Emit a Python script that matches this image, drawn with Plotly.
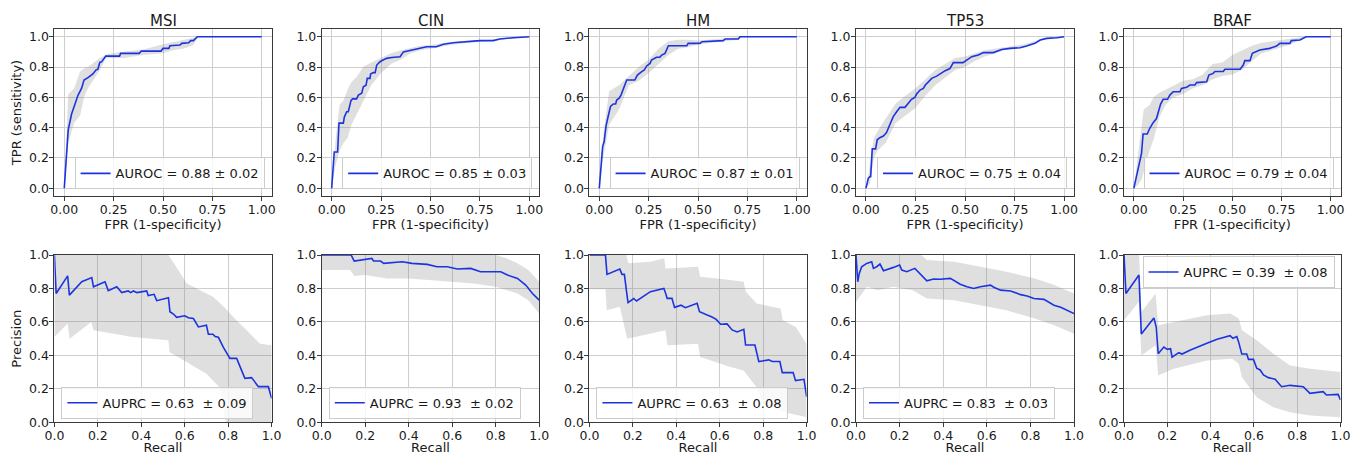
import plotly.graph_objects as go

# ---------------- data ----------------
TITLES = ["MSI", "CIN", "HM", "TP53", "BRAF"]
ROC_LABELS = ["AUROC = 0.88 ± 0.02", "AUROC = 0.85 ± 0.03", "AUROC = 0.87 ± 0.01",
              "AUROC = 0.75 ± 0.04", "AUROC = 0.79 ± 0.04"]
PR_LABELS = ["AUPRC = 0.63 \u00a0± 0.09", "AUPRC = 0.93 \u00a0± 0.02", "AUPRC = 0.63 \u00a0± 0.08",
             "AUPRC = 0.83 \u00a0± 0.03", "AUPRC = 0.39 \u00a0± 0.08"]
ROC_TICKS = [0, 0.25, 0.5, 0.75, 1.0]
PR_TICKS = [0, 0.2, 0.4, 0.6, 0.8, 1.0]

# --- MSI ROC
MSI_FPR = [0, 0.02, 0.037, 0.054, 0.07, 0.088, 0.1, 0.12, 0.145, 0.16, 0.17, 0.18, 0.19, 0.21, 0.28, 0.285,
           0.38, 0.39, 0.49, 0.5, 0.53, 0.535, 0.586, 0.595, 0.63, 0.64, 0.654, 0.674, 1.0]
MSI_TPR = [0, 0.385, 0.49, 0.56, 0.615, 0.66, 0.714, 0.73, 0.754, 0.78, 0.785, 0.83, 0.835, 0.872, 0.872, 0.89,
           0.89, 0.905, 0.905, 0.923, 0.923, 0.94, 0.945, 0.956, 0.96, 0.974, 0.974, 1.0, 1.0]
MSI_ROC_BX = [0, 0.02, 0.05, 0.08, 0.1, 0.12, 0.14, 0.16, 0.18, 0.21, 0.22, 0.3, 0.4, 0.5, 0.55, 0.6, 0.65, 0.68, 1.0]
MSI_ROC_HI = [0, 0.62, 0.66, 0.77, 0.79, 0.80, 0.82, 0.84, 0.86, 0.88, 0.885, 0.90, 0.915, 0.95, 0.965, 0.98, 0.99, 1.0, 1.0]
MSI_ROC_LO = [0, 0.30, 0.43, 0.48, 0.60, 0.66, 0.70, 0.74, 0.78, 0.855, 0.86, 0.86, 0.88, 0.89, 0.91, 0.92, 0.94, 1.0, 1.0]

# --- CIN ROC
CIN_FPR = [0, 0.013, 0.03, 0.037, 0.059, 0.064, 0.076, 0.084, 0.098, 0.106, 0.126, 0.135, 0.152, 0.16, 0.174,
           0.18, 0.194, 0.197, 0.21, 0.22, 0.228, 0.245, 0.26, 0.278, 0.303, 0.346, 0.363, 0.405, 0.447, 0.48,
           0.53, 0.565, 0.615, 0.683, 0.75, 0.818, 0.85, 0.92, 1.0]
CIN_TPR = [0, 0.24, 0.24, 0.43, 0.43, 0.47, 0.505, 0.505, 0.58, 0.59, 0.59, 0.615, 0.627, 0.67, 0.68,
           0.725, 0.725, 0.754, 0.763, 0.763, 0.813, 0.835, 0.846, 0.857, 0.863, 0.868, 0.90, 0.912, 0.923, 0.934,
           0.934, 0.95, 0.96, 0.967, 0.974, 0.974, 0.985, 0.993, 1.0]
CIN_ROC_BX = [0, 0.02, 0.04, 0.06, 0.08, 0.1, 0.13, 0.16, 0.2, 0.25, 0.3, 0.35, 0.4, 0.45, 0.5, 0.6, 0.7, 0.8, 0.9, 1.0]
CIN_ROC_HI = [0, 0.32, 0.55, 0.58, 0.65, 0.70, 0.74, 0.80, 0.83, 0.86, 0.89, 0.91, 0.925, 0.94, 0.945, 0.965, 0.975, 0.978, 0.995, 1.0]
CIN_ROC_LO = [0, 0.15, 0.25, 0.30, 0.33, 0.42, 0.50, 0.58, 0.68, 0.76, 0.82, 0.85, 0.89, 0.91, 0.92, 0.945, 0.96, 0.97, 0.987, 1.0]

# --- HM ROC
HM_FPR = [0, 0.017, 0.025, 0.034, 0.046, 0.057, 0.071, 0.083, 0.088, 0.1, 0.11, 0.122, 0.139, 0.18, 0.193, 0.215,
          0.228, 0.24, 0.257, 0.265, 0.29, 0.307, 0.316, 0.333, 0.35, 0.443, 0.45, 0.51, 0.52, 0.628, 0.637, 0.704,
          0.713, 1.0]
HM_TPR = [0, 0.275, 0.31, 0.41, 0.48, 0.54, 0.556, 0.556, 0.582, 0.593, 0.615, 0.66, 0.714, 0.714, 0.747, 0.77,
          0.78, 0.807, 0.824, 0.846, 0.864, 0.864, 0.879, 0.89, 0.94, 0.94, 0.956, 0.956, 0.967, 0.974, 0.985, 0.985,
          1.0, 1.0]
HM_ROC_BX = [0, 0.02, 0.05, 0.1, 0.15, 0.2, 0.25, 0.3, 0.35, 0.4, 0.45, 0.5, 0.6, 0.7, 0.72, 1.0]
HM_ROC_HI = [0, 0.35, 0.64, 0.68, 0.74, 0.80, 0.85, 0.92, 0.97, 0.98, 0.98, 0.975, 0.985, 0.995, 1.0, 1.0]
HM_ROC_LO = [0, 0.20, 0.42, 0.52, 0.68, 0.71, 0.76, 0.82, 0.88, 0.92, 0.93, 0.95, 0.965, 0.98, 1.0, 1.0]

# --- TP53 ROC
TP53_FPR = [0, 0.012, 0.02, 0.024, 0.032, 0.049, 0.057, 0.07, 0.088, 0.104, 0.113, 0.125, 0.138, 0.155, 0.172,
            0.197, 0.214, 0.23, 0.247, 0.256, 0.273, 0.29, 0.30, 0.315, 0.332, 0.357, 0.374, 0.40, 0.424, 0.433,
            0.441, 0.49, 0.508, 0.534, 0.567, 0.593, 0.643, 0.685, 0.727, 0.778, 0.811, 0.853, 0.879, 0.912, 0.963, 1.0]
TP53_TPR = [0, 0.066, 0.077, 0.077, 0.26, 0.26, 0.32, 0.334, 0.345, 0.367, 0.396, 0.43, 0.473, 0.505, 0.534,
            0.534, 0.56, 0.587, 0.6, 0.622, 0.648, 0.659, 0.681, 0.703, 0.725, 0.74, 0.754, 0.776, 0.79, 0.807,
            0.829, 0.829, 0.846, 0.868, 0.879, 0.895, 0.895, 0.916, 0.923, 0.927, 0.938, 0.956, 0.978, 0.989, 0.993, 1.0]
TP53_ROC_BX = [0, 0.02, 0.04, 0.06, 0.1, 0.15, 0.2, 0.25, 0.3, 0.35, 0.4, 0.45, 0.5, 0.55, 0.6, 0.7, 0.8, 0.9, 1.0]
TP53_ROC_HI = [0, 0.15, 0.33, 0.38, 0.46, 0.56, 0.61, 0.66, 0.72, 0.78, 0.82, 0.86, 0.87, 0.89, 0.91, 0.93, 0.95, 0.99, 1.0]
TP53_ROC_LO = [0, 0.03, 0.20, 0.25, 0.30, 0.43, 0.48, 0.53, 0.61, 0.68, 0.73, 0.78, 0.80, 0.84, 0.87, 0.91, 0.93, 0.98, 1.0]

# --- BRAF ROC
BRAF_FPR = [0, 0.0136, 0.03, 0.039, 0.047, 0.068, 0.081, 0.098, 0.115, 0.124, 0.136, 0.149, 0.171, 0.183, 0.2,
            0.234, 0.242, 0.268, 0.285, 0.31, 0.319, 0.37, 0.381, 0.403, 0.412, 0.454, 0.463, 0.54, 0.556, 0.564,
            0.59, 0.602, 0.624, 0.64, 0.69, 0.725, 0.742, 0.793, 0.8, 0.844, 0.875, 1.0]
BRAF_TPR = [0, 0.077, 0.165, 0.23, 0.358, 0.358, 0.396, 0.433, 0.46, 0.495, 0.556, 0.587, 0.587, 0.615, 0.637,
            0.637, 0.659, 0.666, 0.681, 0.681, 0.697, 0.703, 0.747, 0.758, 0.77, 0.77, 0.785, 0.785, 0.813, 0.842,
            0.842, 0.89, 0.9, 0.912, 0.923, 0.938, 0.956, 0.956, 0.974, 0.978, 1.0, 1.0]
BRAF_ROC_BX = [0, 0.02, 0.04, 0.05, 0.08, 0.1, 0.13, 0.16, 0.2, 0.25, 0.3, 0.35, 0.4, 0.45, 0.5, 0.55, 0.6, 0.65,
               0.7, 0.8, 0.87, 1.0]
BRAF_ROC_HI = [0, 0.2, 0.4, 0.52, 0.55, 0.6, 0.63, 0.65, 0.68, 0.71, 0.72, 0.75, 0.82, 0.83, 0.88, 0.91, 0.94, 0.96,
               0.97, 0.99, 1.0, 1.0]
BRAF_ROC_LO = [0, 0.02, 0.06, 0.12, 0.25, 0.32, 0.47, 0.55, 0.6, 0.62, 0.66, 0.68, 0.72, 0.74, 0.75, 0.78, 0.84, 0.89,
               0.91, 0.95, 1.0, 1.0]

# --- MSI PR
MSI_REC = [0, 0.008, 0.061, 0.069, 0.126, 0.172, 0.18, 0.233, 0.248, 0.287, 0.31, 0.34, 0.35, 0.364, 0.38, 0.425,
           0.432, 0.459, 0.471, 0.525, 0.532, 0.548, 0.563, 0.6, 0.617, 0.64, 0.663, 0.7, 0.709, 0.73, 0.74, 0.755,
           0.778, 0.808, 0.839, 0.854, 0.877, 0.908, 0.939, 0.985, 1.0]
MSI_PREC = [1.0, 0.77, 0.875, 0.76, 0.84, 0.865, 0.81, 0.84, 0.787, 0.81, 0.775, 0.785, 0.775, 0.785, 0.775, 0.785,
            0.757, 0.765, 0.727, 0.745, 0.661, 0.647, 0.627, 0.637, 0.625, 0.62, 0.57, 0.58, 0.526, 0.526, 0.512, 0.508,
            0.448, 0.382, 0.382, 0.333, 0.263, 0.267, 0.213, 0.213, 0.143]
MSI_PR_HI_X = [0, 0.525, 0.55, 0.61, 0.67, 0.73, 0.78, 0.83, 0.885, 0.946, 1.0]
MSI_PR_HI_Y = [1.0, 1.0, 0.95, 0.83, 0.79, 0.75, 0.69, 0.62, 0.55, 0.47, 0.46]
MSI_PR_LO_X = [0, 0.061, 0.07, 0.17, 0.18, 0.36, 0.525, 0.53, 0.61, 0.7, 0.76, 0.79, 1.0]
MSI_PR_LO_Y = [0.51, 0.59, 0.50, 0.60, 0.55, 0.51, 0.49, 0.42, 0.36, 0.29, 0.21, 0.0, 0.0]

# --- CIN PR
CIN_REC = [0, 0.135, 0.149, 0.192, 0.23, 0.238, 0.27, 0.285, 0.37, 0.415, 0.485, 0.53, 0.577, 0.623, 0.685, 0.73,
           0.823, 0.854, 0.9, 0.938, 0.969, 1.0]
CIN_PREC = [1.0, 1.0, 0.964, 0.974, 0.98, 0.964, 0.964, 0.95, 0.96, 0.95, 0.944, 0.93, 0.93, 0.916, 0.92, 0.9,
            0.9, 0.88, 0.86, 0.82, 0.77, 0.73]
CIN_PR_HI_X = [0, 0.8, 0.85, 0.9, 0.95, 1.0]
CIN_PR_HI_Y = [1.0, 1.0, 0.98, 0.95, 0.91, 0.84]
CIN_PR_LO_X = [0, 0.13, 0.15, 0.2, 0.3, 0.4, 0.5, 0.6, 0.7, 0.8, 0.85, 0.9, 0.95, 1.0]
CIN_PR_LO_Y = [0.91, 0.91, 0.875, 0.88, 0.86, 0.86, 0.85, 0.84, 0.83, 0.81, 0.79, 0.77, 0.73, 0.65]

# --- HM PR
HM_REC = [0, 0.074, 0.081, 0.14, 0.15, 0.161, 0.174, 0.178, 0.204, 0.217, 0.281, 0.343, 0.35, 0.358, 0.38, 0.392,
          0.422, 0.442, 0.496, 0.507, 0.542, 0.562, 0.584, 0.604, 0.634, 0.657, 0.68, 0.711, 0.719, 0.762, 0.78,
          0.826, 0.842, 0.877, 0.888, 0.938, 0.949, 0.988, 1.0]
HM_PREC = [1.0, 1.0, 0.884, 0.916, 0.884, 0.884, 0.751, 0.715, 0.74, 0.725, 0.781, 0.8, 0.775, 0.741, 0.741, 0.687,
           0.7, 0.685, 0.711, 0.661, 0.641, 0.631, 0.615, 0.586, 0.588, 0.552, 0.54, 0.556, 0.462, 0.462, 0.363,
           0.373, 0.363, 0.363, 0.297, 0.297, 0.249, 0.257, 0.153]
HM_PR_HI_X = [0, 0.17, 0.18, 0.28, 0.345, 0.35, 0.5, 0.51, 0.65, 0.71, 0.72, 0.77, 0.88, 0.89, 0.95, 1.0]
HM_PR_HI_Y = [1.0, 1.0, 0.95, 0.96, 0.98, 0.92, 0.93, 0.87, 0.85, 0.84, 0.78, 0.71, 0.68, 0.61, 0.57, 0.47]
HM_PR_LO_X = [0, 0.074, 0.08, 0.14, 0.174, 0.35, 0.36, 0.5, 0.51, 0.65, 0.71, 0.77, 0.8, 0.9, 1.0]
HM_PR_LO_Y = [0.795, 0.795, 0.67, 0.69, 0.50, 0.55, 0.46, 0.47, 0.39, 0.33, 0.31, 0.21, 0.11, 0.06, 0.03]

# --- TP53 PR
TP53_REC = [0, 0.008, 0.015, 0.026, 0.049, 0.072, 0.08, 0.095, 0.11, 0.126, 0.172, 0.2, 0.21, 0.233, 0.27, 0.294,
            0.325, 0.356, 0.386, 0.433, 0.448, 0.478, 0.509, 0.54, 0.57, 0.617, 0.632, 0.663, 0.709, 0.755, 0.785,
            0.816, 0.862, 0.908, 0.939, 0.977, 1.0]
TP53_PREC = [1.0, 0.84, 0.89, 0.93, 0.95, 0.96, 0.92, 0.93, 0.946, 0.906, 0.926, 0.94, 0.91, 0.9, 0.92, 0.89,
             0.846, 0.856, 0.855, 0.86, 0.847, 0.825, 0.81, 0.8, 0.81, 0.82, 0.807, 0.79, 0.785, 0.763, 0.755,
             0.74, 0.735, 0.7, 0.687, 0.665, 0.65]
TP53_PR_HI_X = [0, 0.3, 0.325, 0.45, 0.57, 0.69, 0.82, 0.91, 1.0]
TP53_PR_HI_Y = [1.0, 1.0, 0.97, 0.96, 0.93, 0.90, 0.86, 0.82, 0.77]
TP53_PR_LO_X = [0, 0.01, 0.05, 0.1, 0.17, 0.26, 0.325, 0.45, 0.57, 0.69, 0.82, 0.91, 1.0]
TP53_PR_LO_Y = [0.72, 0.74, 0.81, 0.79, 0.81, 0.79, 0.74, 0.73, 0.70, 0.67, 0.62, 0.58, 0.53]

# --- BRAF PR
BRAF_REC = [0, 0.009, 0.069, 0.08, 0.138, 0.149, 0.158, 0.184, 0.2, 0.215, 0.222, 0.253, 0.268, 0.307, 0.383, 0.43,
            0.49, 0.503, 0.521, 0.529, 0.544, 0.567, 0.575, 0.598, 0.613, 0.629, 0.644, 0.667, 0.698, 0.728, 0.767,
            0.828, 0.859, 0.92, 0.935, 0.989, 1.0]
BRAF_PREC = [1.0, 0.77, 0.88, 0.528, 0.624, 0.568, 0.41, 0.45, 0.436, 0.44, 0.39, 0.416, 0.408, 0.432, 0.472, 0.496,
             0.518, 0.502, 0.512, 0.482, 0.408, 0.408, 0.376, 0.376, 0.323, 0.313, 0.283, 0.267, 0.257, 0.213, 0.221,
             0.213, 0.173, 0.183, 0.163, 0.167, 0.133]
BRAF_PR_HI_X = [0, 0.07, 0.08, 0.146, 0.158, 0.23, 0.383, 0.49, 0.53, 0.545, 0.613, 0.69, 0.767, 0.86, 1.0]
BRAF_PR_HI_Y = [1.0, 1.0, 0.66, 0.77, 0.58, 0.60, 0.64, 0.65, 0.62, 0.55, 0.49, 0.41, 0.34, 0.32, 0.30]
BRAF_PR_LO_X = [0, 0.069, 0.08, 0.146, 0.158, 0.23, 0.383, 0.5, 0.53, 0.545, 0.613, 0.69, 0.767, 0.86, 1.0]
BRAF_PR_LO_Y = [0.61, 0.72, 0.40, 0.46, 0.28, 0.32, 0.37, 0.38, 0.35, 0.27, 0.15, 0.09, 0.06, 0.04, 0.03]

ROC = [
    (MSI_FPR, MSI_TPR, MSI_ROC_BX, MSI_ROC_HI, MSI_ROC_BX, MSI_ROC_LO),
    (CIN_FPR, CIN_TPR, CIN_ROC_BX, CIN_ROC_HI, CIN_ROC_BX, CIN_ROC_LO),
    (HM_FPR, HM_TPR, HM_ROC_BX, HM_ROC_HI, HM_ROC_BX, HM_ROC_LO),
    (TP53_FPR, TP53_TPR, TP53_ROC_BX, TP53_ROC_HI, TP53_ROC_BX, TP53_ROC_LO),
    (BRAF_FPR, BRAF_TPR, BRAF_ROC_BX, BRAF_ROC_HI, BRAF_ROC_BX, BRAF_ROC_LO),
]
PR = [
    (MSI_REC, MSI_PREC, MSI_PR_HI_X, MSI_PR_HI_Y, MSI_PR_LO_X, MSI_PR_LO_Y),
    (CIN_REC, CIN_PREC, CIN_PR_HI_X, CIN_PR_HI_Y, CIN_PR_LO_X, CIN_PR_LO_Y),
    (HM_REC, HM_PREC, HM_PR_HI_X, HM_PR_HI_Y, HM_PR_LO_X, HM_PR_LO_Y),
    (TP53_REC, TP53_PREC, TP53_PR_HI_X, TP53_PR_HI_Y, TP53_PR_LO_X, TP53_PR_LO_Y),
    (BRAF_REC, BRAF_PREC, BRAF_PR_HI_X, BRAF_PR_HI_Y, BRAF_PR_LO_X, BRAF_PR_LO_Y),
]

# ---------------- layout / style ----------------
W, H = 1353, 455
FONT = "DejaVu Sans"
LINE_COLOR = "#1c34e0"
BAND_COLOR = "rgba(128,128,128,0.25)"
GRID = "rgb(206,206,206)"
SPINE = "#3a3a3a"
TXT = "#1a1a1a"

COL_PX = [(54.4, 271.6), (321.8, 539.2), (589.4, 806.6), (856.0, 1074.0), (1124.0, 1340.5)]
TOP_PX = (29.1, 195.9)
BOT_PX = (255.0, 422.3)

def xd(c):
    return [COL_PX[c][0] / W, COL_PX[c][1] / W]

def yd(row):
    t, b = row
    return [1 - b / H, 1 - t / H]

fig = go.Figure()
layout = dict(
    width=W, height=H,
    margin=dict(l=0, r=0, t=0, b=0),
    paper_bgcolor="white", plot_bgcolor="white",
    font=dict(family=FONT, size=12, color=TXT),
    annotations=[],
)

def axis_common():
    return dict(showline=True, mirror=True, linecolor=SPINE, linewidth=1,
                showgrid=True, gridcolor=GRID, gridwidth=1, zeroline=False,
                ticks="outside", ticklen=4, tickwidth=1, tickcolor=SPINE,
                ticklabelstandoff=-2,
                automargin=False,
                tickfont=dict(size=12.5, family=FONT, color=TXT))

for r in range(2):
    for c in range(5):
        k = r * 5 + c
        n = k + 1
        xs = "" if n == 1 else str(n)
        xname, yname = "x" + xs, "y" + xs
        lg = "legend" + xs
        cx, cy, hx, hy, lx, ly = (ROC if r == 0 else PR)[c]
        label = (ROC_LABELS if r == 0 else PR_LABELS)[c]

        fig.add_trace(go.Scatter(
            x=list(hx) + list(lx)[::-1], y=list(hy) + list(ly)[::-1],
            fill="toself", fillcolor=BAND_COLOR, mode="lines", line=dict(width=0),
            hoverinfo="skip", showlegend=False, xaxis=xname, yaxis=yname))
        fig.add_trace(go.Scatter(
            x=cx, y=cy, mode="lines", line=dict(color=LINE_COLOR, width=1.6),
            name=label, legend=lg, showlegend=True, xaxis=xname, yaxis=yname))

        xa = axis_common()
        ya = axis_common()
        xa.update(domain=xd(c), anchor=yname)
        ya.update(domain=yd(TOP_PX if r == 0 else BOT_PX), anchor=xname)
        if r == 0:
            xa.update(range=[-0.05, 1.05], tickvals=ROC_TICKS, tickformat=".2f",
                      title=dict(text="FPR (1-specificity)", font=dict(size=13), standoff=1))
            ya.update(range=[-0.05, 1.05], tickvals=PR_TICKS, tickformat=".1f")
            if c == 0:
                ya.update(title=dict(text="TPR (sensitivity)", font=dict(size=13), standoff=4))
        else:
            xa.update(range=[0, 1], tickvals=PR_TICKS, tickformat=".1f",
                      title=dict(text="Recall", font=dict(size=13), standoff=1))
            ya.update(range=[0, 1], tickvals=PR_TICKS, tickformat=".1f")
            if c == 0:
                ya.update(title=dict(text="Precision", font=dict(size=13), standoff=4))
        layout["xaxis" + xs] = xa
        layout["yaxis" + xs] = ya

        leg = dict(bgcolor="rgba(255,255,255,0.8)", bordercolor="#cccccc", borderwidth=1,
                   font=dict(size=13, family=FONT, color=TXT), itemwidth=30,
                   xref="paper", yref="paper", tracegroupgap=0)
        if r == 0:
            leg.update(x=(COL_PX[c][1] - 7) / W, xanchor="right",
                       y=1 - (TOP_PX[1] - 22.5) / H, yanchor="middle")
        elif c < 4:
            leg.update(x=(COL_PX[c][0] + 7) / W, xanchor="left",
                       y=1 - (BOT_PX[1] - 19.5) / H, yanchor="middle")
        else:
            leg.update(x=(COL_PX[c][1] - 6) / W, xanchor="right",
                       y=1 - (BOT_PX[0] + 17) / H, yanchor="middle")
        layout[lg] = leg

for c, t in enumerate(TITLES):
    layout["annotations"].append(dict(
        text=t, x=(COL_PX[c][0] + COL_PX[c][1]) / 2 / W, y=1 - 21 / H,
        xref="paper", yref="paper", xanchor="center", yanchor="middle",
        showarrow=False, font=dict(size=15, family=FONT, color=TXT)))

fig.update_layout(**layout)
fig.write_html("out.html",
               config={"displayModeBar": False, "staticPlot": True},
               post_script="document.body.style.margin='0';document.body.style.overflow='hidden';")
